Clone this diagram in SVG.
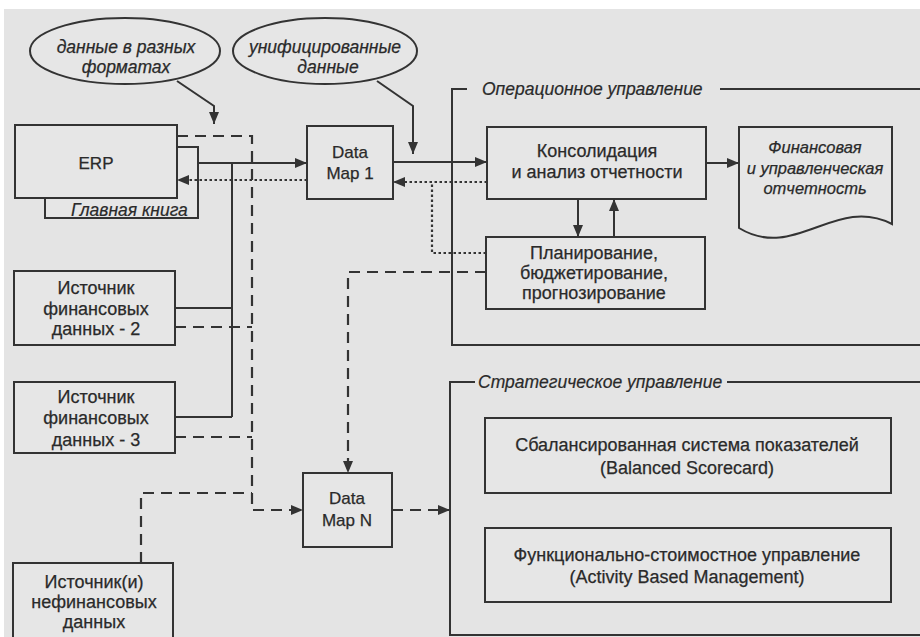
<svg xmlns="http://www.w3.org/2000/svg" width="920" height="637" viewBox="0 0 920 637">
<defs>
<style>
.bg{fill:#e4e4e4}
.box{fill:#e6e6e6;stroke:#333;stroke-width:2}
.ln{fill:none;stroke:#333;stroke-width:2}
.dash{fill:none;stroke:#333;stroke-width:2.2;stroke-dasharray:11 7}
.dot{fill:none;stroke:#333;stroke-width:2.2;stroke-dasharray:2.5 2.5}
.t{font-family:"Liberation Sans",Arial,sans-serif;font-size:18px;fill:#2a2a2a;stroke:#2a2a2a;stroke-width:0.25;text-anchor:middle}
.dm{font-size:17px}
.ti{font-family:"Liberation Sans",Arial,sans-serif;font-size:17.5px;font-style:italic;fill:#2a2a2a;stroke:#2a2a2a;stroke-width:0.25;text-anchor:middle}
.rp{font-size:16.5px}
.lbl{font-family:"Liberation Sans",Arial,sans-serif;font-size:17.5px;font-style:italic;fill:#2a2a2a;stroke:#2a2a2a;stroke-width:0.2}
</style>
<marker id="ah" viewBox="0 0 12 10" refX="12" refY="5" markerWidth="12" markerHeight="10" markerUnits="userSpaceOnUse" orient="auto">
<path d="M0,0 L12,5 L0,10 Z" fill="#333"/>
</marker>
</defs>
<rect width="920" height="637" fill="#ffffff"/>
<rect class="bg" x="4" y="9" width="916" height="628"/>

<g id="ell-formats">
<ellipse class="box" cx="125" cy="51" rx="95" ry="33"/>
<text class="ti" x="126" y="53">данные в разных</text>
<text class="ti" x="126" y="73">форматах</text>
</g>
<g id="ell-unified">
<ellipse class="box" cx="325" cy="51" rx="92" ry="33"/>
<text class="ti" x="325" y="53">унифицированные</text>
<text class="ti" x="328" y="73">данные</text>
</g>

<g id="ledger">
<rect class="box" x="45" y="147" width="153" height="71"/>
<text class="lbl" x="71" y="216">Главная книга</text>
</g>
<g id="erp">
<rect class="box" x="15" y="125" width="162" height="73"/>
<text class="t dm" x="96" y="169">ERP</text>
</g>
<g id="datamap1">
<rect class="box" x="307" y="126" width="86" height="73"/>
<text class="t dm" x="350" y="158">Data</text>
<text class="t dm" x="350" y="179">Map 1</text>
</g>
<g id="source2">
<rect class="box" x="14" y="271" width="161" height="74"/>
<text class="t" x="96" y="294">Источник</text>
<text class="t" x="96" y="315">финансовых</text>
<text class="t" x="96" y="335">данных - 2</text>
</g>
<g id="source3">
<rect class="box" x="14" y="382" width="161" height="71"/>
<text class="t" x="96" y="403">Источник</text>
<text class="t" x="96" y="424">финансовых</text>
<text class="t" x="96" y="446">данных - 3</text>
</g>
<g id="source-nonfin">
<rect class="box" x="13" y="563" width="160" height="80"/>
<text class="t" x="94" y="588">Источник(и)</text>
<text class="t" x="94" y="608">нефинансовых</text>
<text class="t" x="94" y="628">данных</text>
</g>
<g id="datamapN">
<rect class="box" x="303" y="473" width="89" height="74"/>
<text class="t dm" x="347" y="504">Data</text>
<text class="t dm" x="347" y="526">Map N</text>
</g>

<g id="frame-operational">
<path class="ln" d="M467,89 H452 V345 H922 M720,89 H922"/>
<text class="lbl" x="482" y="95">Операционное управление</text>
</g>
<g id="consolidation">
<rect class="box" x="487" y="127" width="219" height="72"/>
<text class="t" x="597" y="157">Консолидация</text>
<text class="t" x="597" y="178">и анализ отчетности</text>
</g>
<g id="planning">
<rect class="box" x="486" y="237" width="219" height="72"/>
<text class="t" x="594" y="259">Планирование,</text>
<text class="t" x="594" y="279">бюджетирование,</text>
<text class="t" x="594" y="299">прогнозирование</text>
</g>
<g id="report">
<path class="box" d="M739,127 H892 V224 C835,195 795,262 739,228 Z"/>
<text class="ti rp" x="815" y="153">Финансовая</text>
<text class="ti rp" x="815" y="174">и управленческая</text>
<text class="ti rp" x="815" y="194">отчетность</text>
</g>

<g id="frame-strategic">
<path class="ln" d="M475,382 H450 V635 H922 M727,382 H922"/>
<text class="lbl" x="478" y="388">Стратегическое управление</text>
</g>
<g id="bsc">
<rect class="box" x="485" y="418" width="406" height="75"/>
<text class="t" x="687" y="451">Сбалансированная система показателей</text>
<text class="t" x="687" y="474">(Balanced Scorecard)</text>
</g>
<g id="abm">
<rect class="box" x="485" y="528" width="406" height="74"/>
<text class="t" x="687" y="561">Функционально-стоимостное управление</text>
<text class="t" x="687" y="583">(Activity Based Management)</text>
</g>

<g id="connectors">
<path class="ln" d="M177,81 L214,106 V124" marker-end="url(#ah)"/>
<path class="ln" d="M377,81 L413,106 V154" marker-end="url(#ah)"/>
<path class="dash" d="M177,136 H252 V510 H303" marker-end="url(#ah)"/>
<path class="ln" d="M198,163 H307" marker-end="url(#ah)"/>
<path class="ln" d="M232,163 V417"/>
<path class="ln" d="M175,308 H232"/>
<path class="ln" d="M175,417 H232"/>
<path class="dot" d="M307,180 H177" marker-end="url(#ah)"/>
<path class="dash" d="M175,327 H252"/>
<path class="dash" d="M175,437 H252"/>
<path class="dash" d="M141,563 V493 H252"/>
<path class="ln" d="M393,162 H487" marker-end="url(#ah)"/>
<path class="dot" d="M487,182 H393" marker-end="url(#ah)"/>
<path class="dot" d="M486,253 H432 V182"/>
<path class="dash" d="M486,272 H348 V473" marker-end="url(#ah)"/>
<path class="dash" d="M392,510 H450" marker-end="url(#ah)"/>
<path class="ln" d="M578,199 V237" marker-end="url(#ah)"/>
<path class="ln" d="M614,237 V199" marker-end="url(#ah)"/>
<path class="ln" d="M706,163 H739" marker-end="url(#ah)"/>
</g>
</svg>
